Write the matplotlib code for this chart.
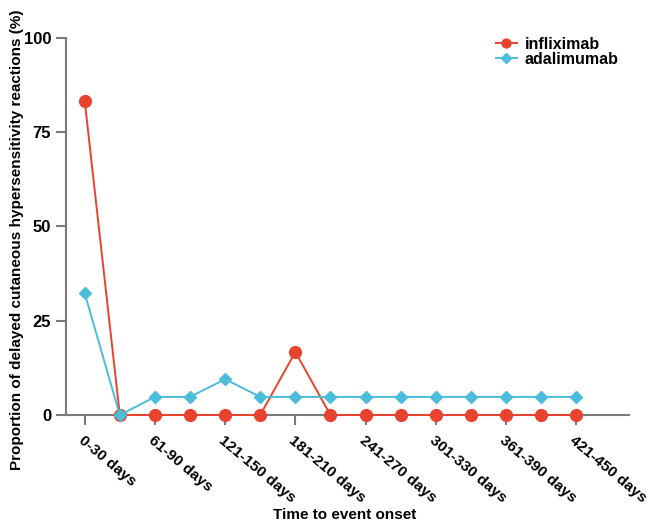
import numpy as np
import matplotlib.pyplot as plt

plt.rcParams.update({
    "font.family": ["Liberation Sans", "DejaVu Sans"],
    "font.weight": "bold",
    "font.size": 11,
})

# ===============================
# data
# ===============================
periods = ["0-30 days", "31-60 days", "61-90 days", "91-120 days", "121-150 days",
           "151-180 days", "181-210 days", "211-240 days", "241-270 days",
           "271-300 days", "301-330 days", "331-360 days", "361-390 days",
           "391-420 days", "421-450 days"]
infliximab = [83.3, 0, 0, 0, 0, 0, 16.7, 0, 0, 0, 0, 0, 0, 0, 0]
adalimumab = [32.3, 0, 4.8, 4.8, 9.5, 4.8, 4.8, 4.8, 4.8, 4.8, 4.8, 4.8, 4.8, 4.8, 4.8]

RED = "#E8432E"
BLUE = "#4BBCD9"
GREY = "#7a7a7a"

fig = plt.figure(figsize=(6.51, 5.26), dpi=100)
ax = fig.add_axes([0.101, 0.211, 0.865, 0.717])

x = np.arange(len(periods))
ax.plot(x, infliximab, color=RED, lw=1.4, marker="o", ms=8.5, clip_on=False,
        zorder=3, label="infliximab")
ax.plot(x, adalimumab, color=BLUE, lw=1.4, marker="D", ms=6.5, clip_on=False,
        zorder=4, label="adalimumab")

ax.set_xlim(-0.54, 15.5)
ax.set_ylim(0, 100)
ax.set_yticks([0, 25, 50, 75, 100])
ax.set_yticklabels(["0", "25", "50", "75", "100"], fontsize=12)
ax.set_xticks(x[::2])
ax.set_xticklabels(periods[::2], rotation=-40, ha="left", rotation_mode="anchor",
                   fontsize=11)

for side in ["top", "right"]:
    ax.spines[side].set_visible(False)
for side in ["left", "bottom"]:
    ax.spines[side].set_color(GREY)
    ax.spines[side].set_linewidth(1.5)
ax.tick_params(color=GREY, width=1.5, length=7)
ax.tick_params(axis="x", pad=6)

ax.set_ylabel("Proportion of delayed cutaneous hypersensitivity reactions (%)",
              fontweight="bold", fontsize=11)
ax.yaxis.set_label_coords(-0.075, 0.464)
fig.text(0.53, 0.02, "Time to event onset", fontweight="bold", fontsize=11,
         ha="center", va="center")

leg = fig.legend(loc="upper right", bbox_to_anchor=(0.95, 0.93), frameon=False,
                 handlelength=1.3, handletextpad=0.5, labelspacing=0.0,
                 borderpad=0, borderaxespad=0, markerscale=0.75,
                 prop={"weight": "bold", "size": 11.5})

fig.savefig("out.png", dpi=100)
